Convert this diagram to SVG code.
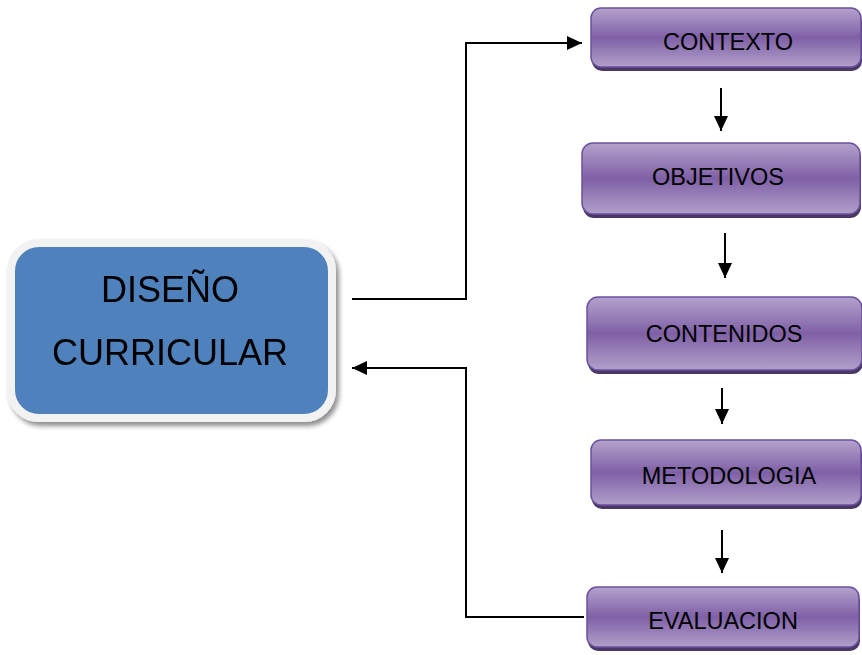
<svg xmlns="http://www.w3.org/2000/svg" width="862" height="655" viewBox="0 0 862 655">
  <defs>
    <linearGradient id="purple" x1="0" y1="0" x2="0" y2="1">
      <stop offset="0" stop-color="#B4A2CC"/>
      <stop offset="0.5" stop-color="#7F60A6"/>
      <stop offset="1" stop-color="#B1A0CA"/>
    </linearGradient>
    <filter id="shadow" x="-10%" y="-10%" width="125%" height="130%">
      <feGaussianBlur in="SourceAlpha" stdDeviation="2.5"/>
      <feOffset dx="3" dy="4" result="b"/>
      <feComponentTransfer><feFuncA type="linear" slope="0.45"/></feComponentTransfer>
      <feMerge><feMergeNode/><feMergeNode in="SourceGraphic"/></feMerge>
    </filter>
    <marker id="arrow" markerUnits="userSpaceOnUse" markerWidth="16" markerHeight="16" viewBox="0 0 16 16" refX="15" refY="8" orient="auto">
      <path d="M0,1 L15,8 L0,15 Z" fill="#000"/>
    </marker>
  </defs>
  <style>
    .pbox { fill: url(#purple); stroke: #6A52A0; stroke-width: 1.5; }
    .pshadow { fill: #4A3766; }
    .ptext { font-family: "Liberation Sans", Arial, sans-serif; font-size: 23.5px; fill: #000; text-anchor: middle; }
    .btext { font-family: "Liberation Sans", Arial, sans-serif; font-size: 36px; fill: #000; text-anchor: middle; }
    .conn { fill: none; stroke: #000; stroke-width: 2; }
  </style>

  <g id="diseno-curricular" filter="url(#shadow)">
    <rect x="11" y="243" width="321" height="175" rx="28" ry="28" fill="#4F81BD" stroke="#F2F2F2" stroke-width="8"/>
    <text class="btext" x="170" y="302">DISEÑO</text>
    <text class="btext" x="170" y="365">CURRICULAR</text>
  </g>

  <g id="contexto">
    <rect class="pshadow" x="592" y="12" width="270" height="59" rx="10"/>
    <rect class="pbox" x="591" y="8" width="270" height="59" rx="10"/>
    <text class="ptext" x="728" y="50">CONTEXTO</text>
  </g>

  <g id="objetivos">
    <rect class="pshadow" x="583" y="147" width="278" height="71" rx="11"/>
    <rect class="pbox" x="582" y="143" width="278" height="71" rx="11"/>
    <text class="ptext" x="718" y="185">OBJETIVOS</text>
  </g>

  <g id="contenidos">
    <rect class="pshadow" x="588" y="301" width="275" height="73" rx="11"/>
    <rect class="pbox" x="587" y="297" width="275" height="73" rx="11"/>
    <text class="ptext" x="724" y="342">CONTENIDOS</text>
  </g>

  <g id="metodologia">
    <rect class="pshadow" x="592" y="444" width="270" height="65" rx="10"/>
    <rect class="pbox" x="591" y="440" width="270" height="65" rx="10"/>
    <text class="ptext" x="729" y="484">METODOLOGIA</text>
  </g>

  <g id="evaluacion">
    <rect class="pshadow" x="588" y="591" width="272" height="60" rx="10"/>
    <rect class="pbox" x="587" y="587" width="272" height="60" rx="10"/>
    <text class="ptext" x="723" y="629">EVALUACION</text>
  </g>

  <g id="connectors">
    <polyline class="conn" points="352,299 466,299 466,43 582,43" marker-end="url(#arrow)"/>
    <polyline class="conn" points="584,617 466,617 466,368 352,368" marker-end="url(#arrow)"/>
    <line class="conn" x1="721" y1="88" x2="721" y2="131" marker-end="url(#arrow)"/>
    <line class="conn" x1="725" y1="233" x2="725" y2="278" marker-end="url(#arrow)"/>
    <line class="conn" x1="722" y1="388" x2="722" y2="424" marker-end="url(#arrow)"/>
    <line class="conn" x1="722" y1="530" x2="722" y2="573" marker-end="url(#arrow)"/>
  </g>
</svg>
